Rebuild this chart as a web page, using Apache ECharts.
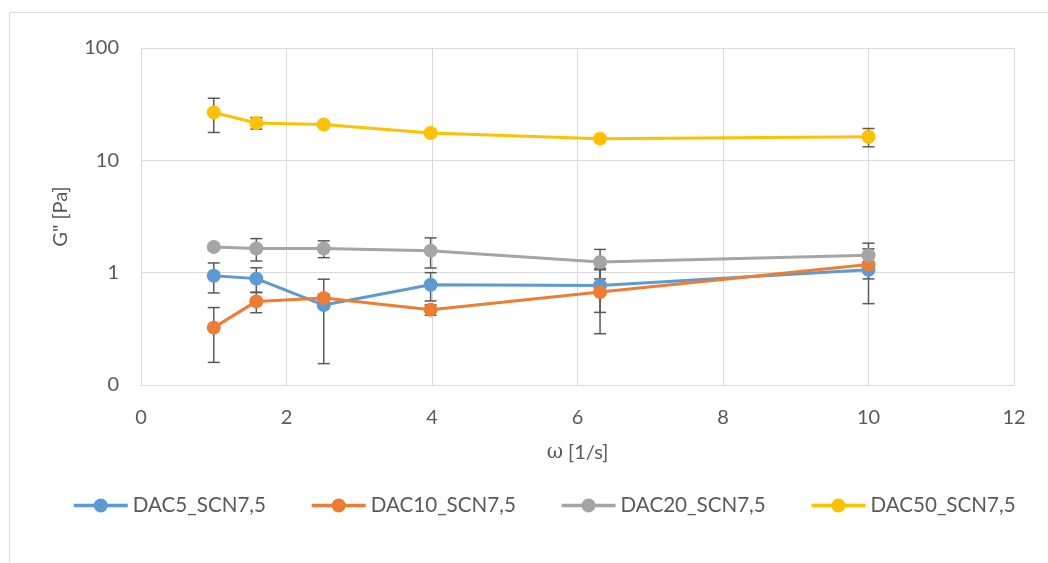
<!DOCTYPE html>
<html>
<head>
<meta charset="utf-8">
<script src="https://cdn.jsdelivr.net/npm/echarts@6/dist/echarts.min.js"></script>
<style>
  html, body { margin: 0; padding: 0; background: #ffffff; }
  #chart { width: 1048px; height: 563px; }
</style>
</head>
<body>
<div id="chart"></div>
<script>
// Angular frequency sweep (rad/s)
const omega = [1, 1.585, 2.512, 3.981, 6.31, 10];

// Loss modulus G'' (Pa) and standard deviations per sample
const dac5 = [0.94, 0.885, 0.515, 0.78, 0.77, 1.06];
const dac5Err = [0.28, 0.22, 0.36, 0.22, 0.327, 0.18];

const dac10 = [0.324, 0.555, 0.594, 0.468, 0.673, 1.18];
const dac10Err = [0.165, 0.115, 0.05, 0.05, 0.387, 0.65];

const dac20 = [1.69, 1.64, 1.64, 1.57, 1.245, 1.43];
const dac20Err = [0.05, 0.37, 0.28, 0.47, 0.365, 0.2];

const dac50 = [26.7, 21.5, 20.8, 17.5, 15.6, 16.2];
const dac50Err = [9, 2.5, 1.0, 0.8, 0.5, 3.0];

const seriesNames = ['DAC5_SCN7,5', 'DAC10_SCN7,5', 'DAC20_SCN7,5', 'DAC50_SCN7,5'];
const seriesColors = ['#5B9BD5', '#ED7D31', '#A5A5A5', '#FFC000'];

// Log-axis tick labels, formatted with no decimals (0.1 shows as 0)
const yTickValues = [0.1, 1, 10, 100];
const yTickLabels = ['0', '1', '10', '100'];

const FONT = 'Lato, "DejaVu Sans", sans-serif';
const TEXT = '#595959';
const GRID = '#d9d9d9';

const values = [dac5, dac10, dac20, dac50];
const errors = [dac5Err, dac10Err, dac20Err, dac50Err];

function renderErrorBar(params, api) {
  const x = api.value(0);
  const hi = api.coord([x, api.value(2)]);
  const lo = api.coord([x, api.value(1)]);
  const half = 6;
  const style = { stroke: '#595959', lineWidth: 1.5 };
  return {
    type: 'group',
    children: [
      { type: 'line', shape: { x1: hi[0], y1: hi[1], x2: lo[0], y2: lo[1] }, style },
      { type: 'line', shape: { x1: hi[0] - half, y1: hi[1], x2: hi[0] + half, y2: hi[1] }, style },
      { type: 'line', shape: { x1: lo[0] - half, y1: lo[1], x2: lo[0] + half, y2: lo[1] }, style }
    ]
  };
}

const series = [];
values.forEach((vals, s) => {
  series.push({
    name: seriesNames[s] + ' err',
    type: 'custom',
    z: 1,
    renderItem: renderErrorBar,
    encode: { x: 0, y: [1, 2] },
    data: omega.map((w, i) => [w, vals[i] - errors[s][i], vals[i] + errors[s][i]])
  });
});
values.forEach((vals, s) => {
  series.push({
    name: seriesNames[s],
    type: 'line',
    z: 2,
    data: omega.map((w, i) => [w, vals[i]]),
    symbol: 'circle',
    symbolSize: 14,
    lineStyle: { width: 3, color: seriesColors[s] },
    itemStyle: { color: seriesColors[s] }
  });
});

const chart = echarts.init(document.getElementById('chart'), null, { renderer: 'canvas' });
chart.setOption({
  animation: false,
  backgroundColor: '#ffffff',
  textStyle: { fontFamily: FONT, color: TEXT },
  graphic: [{
    type: 'rect',
    shape: { x: 9.5, y: 12.5, width: 1100, height: 700 },
    style: { fill: null, stroke: GRID, lineWidth: 1 },
    silent: true,
    z: 0
  }],
  grid: { left: 141, right: 34, top: 48, bottom: 178 },
  legend: {
    data: seriesNames,
    left: 67,
    top: 490,
    itemWidth: 54,
    itemHeight: 17.5,
    itemGap: 44,
    lineStyle: { width: 3.5 },
    textStyle: { fontFamily: FONT, fontSize: 20.6, color: TEXT }
  },
  xAxis: {
    type: 'value',
    min: 0,
    max: 12,
    interval: 2,
    name: '{w|ω} [1/s]',
    nameLocation: 'middle',
    nameGap: 58,
    nameTextStyle: {
      fontFamily: FONT, fontSize: 20, color: TEXT,
      rich: { w: { fontFamily: '"DejaVu Serif", serif', fontSize: 20, color: TEXT } }
    },
    axisLine: { show: true, lineStyle: { color: GRID, width: 1 } },
    axisTick: { show: false },
    axisLabel: { margin: 23, fontFamily: FONT, fontSize: 20, color: TEXT },
    splitLine: { show: true, lineStyle: { color: GRID, width: 1 } }
  },
  yAxis: {
    type: 'log',
    logBase: 10,
    min: 0.1,
    max: 100,
    name: 'G" [Pa]',
    nameLocation: 'middle',
    nameRotate: 90,
    nameGap: 70,
    nameTextStyle: { fontFamily: FONT, fontSize: 20, color: TEXT },
    axisLine: { show: true, lineStyle: { color: GRID, width: 1 } },
    axisTick: { show: false },
    axisLabel: {
      margin: 22, fontFamily: FONT, fontSize: 20, color: TEXT,
      formatter: v => {
        const i = yTickValues.findIndex(t => Math.abs(Math.log10(t) - Math.log10(v)) < 1e-6);
        return i >= 0 ? yTickLabels[i] : '';
      }
    },
    splitLine: { show: true, lineStyle: { color: GRID, width: 1 } }
  },
  series
});
</script>
</body>
</html>
